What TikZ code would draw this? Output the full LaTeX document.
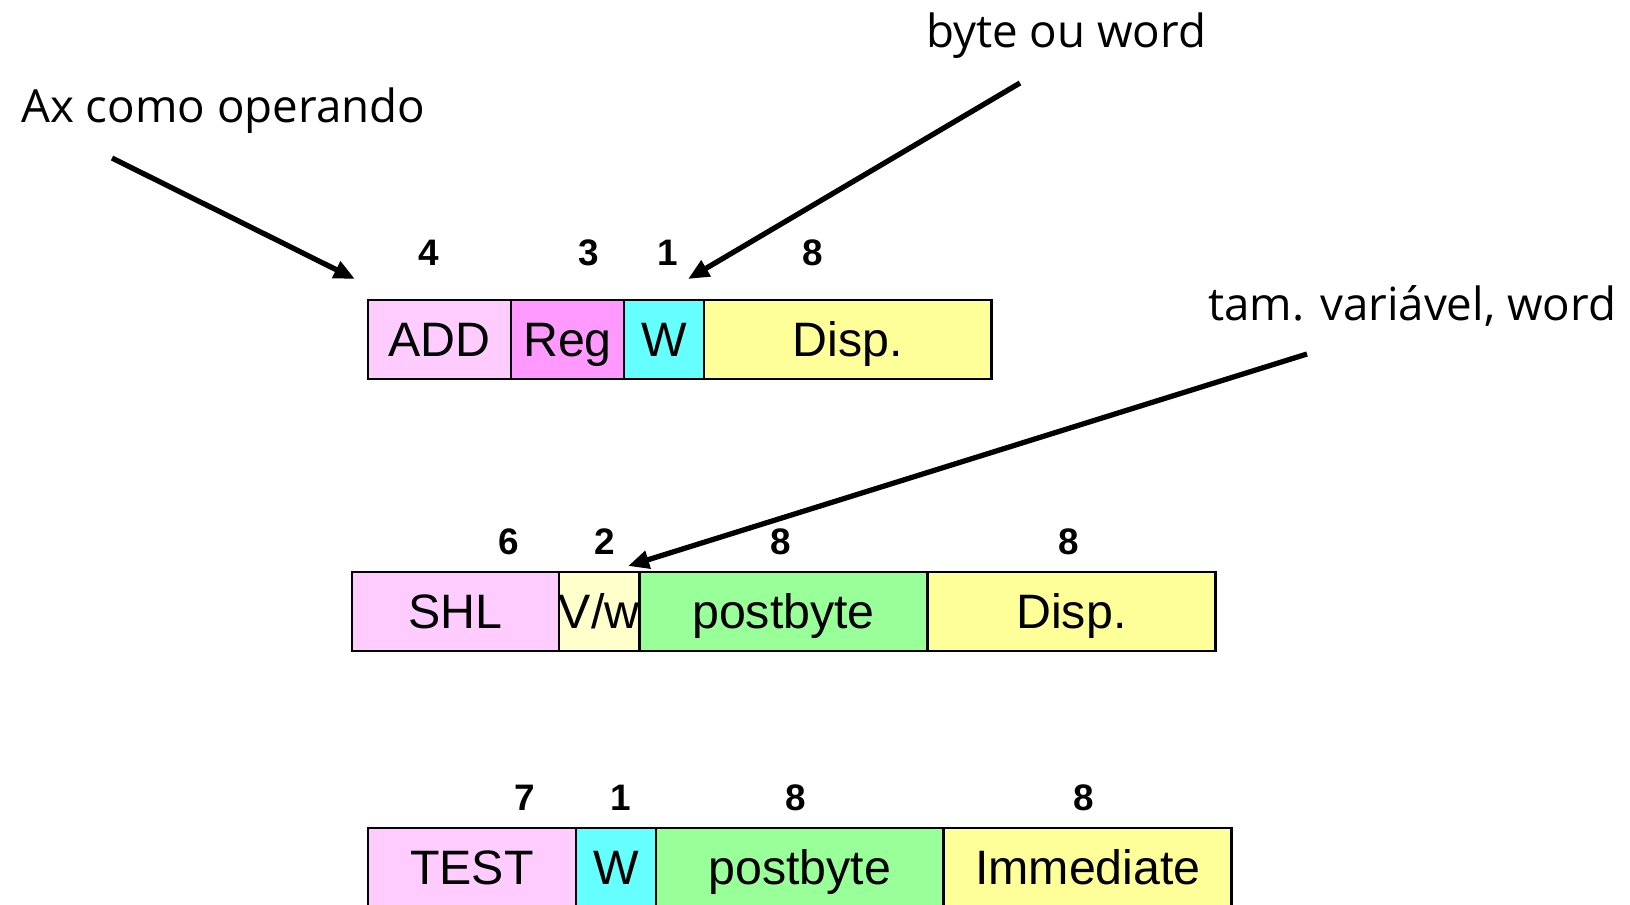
\documentclass[tikz,border=0pt]{standalone}
\usepackage{fontspec}
\setmainfont{Liberation Sans}
\newfontfamily\notefont{Open Sans}
\usetikzlibrary{positioning,arrows.meta}
\definecolor{oppink}{HTML}{FFCCFF}
\definecolor{regpink}{HTML}{FF99FF}
\definecolor{wcyan}{HTML}{66FFFF}
\definecolor{dispyellow}{HTML}{FFFF99}
\definecolor{vwyellow}{HTML}{FFFFCC}
\definecolor{pbgreen}{HTML}{99FF99}
\begin{document}
\begin{tikzpicture}[
  x=0.02cm, y=-0.02cm,
  field/.style={rectangle, draw, line width=1.6pt, outer sep=0pt, inner xsep=0pt,
    minimum height=1.58cm, text height=19.7pt, text depth=0pt,
    font=\fontsize{27.5}{30}\selectfont},
  bits/.style={font=\fontsize{21}{24}\selectfont\bfseries},
  note/.style={anchor=west, font=\notefont\fontsize{26}{30}\selectfont},
  pointer/.style={-{Triangle[length=12pt,width=10pt]}, line width=3pt}
]
\useasboundingbox (0,0) rectangle (1630,904);
\clip (0,0) rectangle (1630,904);

% ADD instruction
\node[field, fill=oppink, minimum width=2.86cm, anchor=north west] (add) at (368,300) {ADD};
\node[field, fill=regpink, minimum width=2.26cm, right=0pt of add] (reg) {Reg};
\node[field, fill=wcyan, minimum width=1.6cm, right=0pt of reg] (addw) {W};
\node[field, fill=dispyellow, minimum width=5.76cm, right=0pt of addw] (adddisp) {Disp.};
\node[bits] (adda) at (429,253) {4};
\node[bits] (addb) at (589,253) {3};
\node[bits] (addc) at (668,253) {1};
\node[bits] (addd) at (813,253) {8};

% SHL instruction
\node[field, fill=oppink, minimum width=4.14cm, anchor=north west] (shl) at (352,572) {SHL};
\node[field, fill=vwyellow, minimum width=1.6cm, right=0pt of shl] (vw) {V/w};
\node[field, fill=pbgreen, minimum width=5.76cm, right=0pt of vw] (shlpb) {postbyte};
\node[field, fill=dispyellow, minimum width=5.76cm, right=0pt of shlpb] (shldisp) {Disp.};
\node[bits] (shla) at (509,542) {6};
\node[bits] (shlb) at (605,542) {2};
\node[bits] (shlc) at (781,542) {8};
\node[bits] (shld) at (1069,542) {8};

% TEST instruction
\node[field, fill=oppink, minimum width=4.16cm, anchor=north west] (test) at (368,828) {TEST};
\node[field, fill=wcyan, minimum width=1.6cm, right=0pt of test] (testw) {W};
\node[field, fill=pbgreen, minimum width=5.76cm, right=0pt of testw] (testpb) {postbyte};
\node[field, fill=dispyellow, minimum width=5.76cm, right=0pt of testpb] (imm) {Immediate};
\node[bits] (testa) at (525,798) {7};
\node[bits] (testb) at (621,798) {1};
\node[bits] (testc) at (796,798) {8};
\node[bits] (testd) at (1084,798) {8};

% notes
\node[note] (axnote) at (15,111) {Ax como operando};
\node[note] (bwnote) at (920,36) {byte ou word};
\node[note] (tamnote) at (1202,306) {tam. variável, word};
\coordinate (axtail) at (112,158);
\coordinate (axtip) at (355,279);
\coordinate (bwtail) at (1020,83);
\coordinate (bwtip) at (688,279);
\coordinate (tamtail) at (1307,354);
\coordinate (tamtip) at (628,566);

\draw[pointer] (axtail) -- (axtip);
\draw[pointer] (bwtail) -- (bwtip);
\draw[pointer] (tamtail) -- (tamtip);
\end{tikzpicture}
\end{document}
